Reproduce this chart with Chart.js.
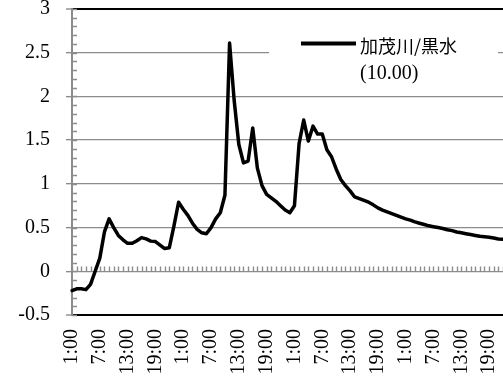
<!DOCTYPE html>
<html>
<head>
<meta charset="utf-8">
<script src="https://cdn.jsdelivr.net/npm/chart.js@4/dist/chart.umd.min.js"></script>
<style>
  html, body { margin: 0; padding: 0; background: #fff; overflow: hidden; }
  canvas { display: block; }
</style>
</head>
<body>
<canvas id="chart" width="503" height="380"></canvas>
<script>
// Station name and reference level shown in the legend
const seriesName = '加茂川/黒水';
const seriesNote = '(10.00)';

// Hour labels of one day, starting at 1:00
const dayHours = ['1:00','2:00','3:00','4:00','5:00','6:00','7:00','8:00','9:00','10:00','11:00','12:00',
                  '13:00','14:00','15:00','16:00','17:00','18:00','19:00','20:00','21:00','22:00','23:00','0:00'];

// Hourly water level (m), one array per day
const day1Level = [-0.22, -0.20, -0.20, -0.21, -0.15, 0.00, 0.15, 0.45, 0.60, 0.50, 0.41, 0.36,
                   0.32, 0.32, 0.35, 0.385, 0.37, 0.345, 0.34, 0.30, 0.26, 0.27, 0.52, 0.79];
const day2Level = [0.71, 0.64, 0.55, 0.48, 0.44, 0.43, 0.50, 0.60, 0.67, 0.87, 2.61, 1.95,
                   1.45, 1.24, 1.26, 1.64, 1.18, 0.98, 0.88, 0.84, 0.80, 0.75, 0.70, 0.67];
const day3Level = [0.75, 1.46, 1.73, 1.49, 1.66, 1.57, 1.57, 1.39, 1.31, 1.17, 1.05, 0.98,
                   0.92, 0.85, 0.83, 0.81, 0.79, 0.76, 0.725, 0.70, 0.68, 0.66, 0.64, 0.62];
const day4Level = [0.60, 0.585, 0.565, 0.55, 0.535, 0.52, 0.51, 0.50, 0.49, 0.475, 0.465,
                   0.45, 0.44, 0.43, 0.42, 0.41, 0.40, 0.395, 0.39, 0.38, 0.37, 0.365];

// Value axis range, spacing and tick labels
const yMin = -0.5;
const yMax = 3;
const yStep = 0.5;
const yMinorStep = 0.1;
const yTickLabels = ['-0.5', '0', '0.5', '1', '1.5', '2', '2.5', '3'];
// Only every sixth hour gets a label
const labelEvery = 6;

const levels = [].concat(day1Level, day2Level, day3Level, day4Level);
const categories = [].concat(dayHours, dayHours, dayHours, dayHours).slice(0, levels.length);

const axisGray = '#8c8c8c';
const serif = "'Liberation Serif', 'DejaVu Serif', 'Times New Roman', serif";

// Minor ticks, hourly ticks on the zero line and the legend box
const decorations = {
  id: 'decorations',
  beforeDatasetsDraw(chart) {
    const { ctx, chartArea: a, scales: { x, y } } = chart;
    ctx.save();
    ctx.strokeStyle = axisGray;
    ctx.lineWidth = 1.4;

    // minor ticks inside the value axis
    const kMin = Math.round(yMin / yMinorStep), kMax = Math.round(yMax / yMinorStep);
    ctx.beginPath();
    for (let k = kMin; k <= kMax; k++) {
      const py = Math.round(y.getPixelForValue(k * yMinorStep)) + 0.5;
      ctx.moveTo(a.left, py);
      ctx.lineTo(a.left + 5, py);
    }
    ctx.stroke();

    // category ticks standing on the zero line
    const y0 = Math.round(y.getPixelForValue(0)) + 0.5;
    ctx.beginPath();
    for (let i = 0; i < categories.length; i++) {
      const px = Math.round(x.getPixelForValue(i)) + 0.5;
      ctx.moveTo(px, y0);
      ctx.lineTo(px, y0 - 5);
    }
    ctx.stroke();

    // legend
    ctx.fillStyle = '#fff';
    ctx.fillRect(269, 22, 229, 62);
    ctx.strokeStyle = '#000';
    ctx.lineWidth = 4;
    ctx.beginPath();
    ctx.moveTo(301, 43.5);
    ctx.lineTo(356, 43.5);
    ctx.stroke();
    ctx.fillStyle = '#000';
    ctx.textBaseline = 'middle';
    ctx.textAlign = 'left';
    ctx.font = "18px 'Noto Sans CJK JP', sans-serif";
    ctx.fillText(seriesName, 360, 46);
    ctx.font = '20px ' + serif;
    ctx.fillText(seriesNote, 360, 74);
    ctx.restore();
  }
};

function drawChart() {
  new Chart(document.getElementById('chart'), {
    type: 'line',
    data: {
      labels: categories,
      datasets: [{
        label: seriesName,
        data: levels,
        borderColor: '#000',
        borderWidth: 3.5,
        borderJoinStyle: 'round',
        borderCapStyle: 'round',
        pointRadius: 0,
        tension: 0,
        fill: false
      }]
    },
    options: {
      responsive: false,
      animation: false,
      devicePixelRatio: 1,
      layout: { autoPadding: false, padding: { top: 9, right: 0, bottom: 0, left: 0 } },
      plugins: { legend: { display: false }, tooltip: { enabled: false } },
      scales: {
        x: {
          type: 'category',
          afterFit(scale) {
            scale.height = 65;
            scale.paddingLeft = 0;
            scale.paddingRight = 0;
          },
          grid: { display: false, drawTicks: false },
          border: { display: true, color: '#000', width: 2 },
          ticks: {
            autoSkip: false,
            minRotation: 90,
            maxRotation: 90,
            padding: 14,
            color: '#000',
            font: { family: serif, size: 20 },
            callback(value, index) {
              return index % labelEvery === 0 ? categories[index] : '';
            }
          }
        },
        y: {
          min: yMin,
          max: yMax,
          afterFit(scale) {
            scale.width = 72;
            scale.paddingTop = 0;
            scale.paddingBottom = 0;
          },
          grid: {
            color: ctx => (ctx.tick && (ctx.tick.value === yMax || ctx.tick.value === yMin)) ? '#000' : axisGray,
            lineWidth: ctx => (ctx.tick && (ctx.tick.value === yMax || ctx.tick.value === yMin)) ? 2 : 1.3,
            tickColor: axisGray,
            tickWidth: 1.4,
            tickLength: 6
          },
          border: { display: true, color: axisGray, width: 2 },
          ticks: {
            stepSize: yStep,
            padding: 16,
            color: '#000',
            font: { family: serif, size: 20 },
            callback(value, index) {
              return yTickLabels[index];
            }
          }
        }
      }
    },
    plugins: [decorations]
  });
}

// make sure the serif face is ready before the canvas text is drawn
Promise.all([
  document.fonts.load("20px 'Liberation Serif'"),
  document.fonts.load("18px 'Noto Sans CJK JP'", seriesName)
]).catch(() => {}).then(drawChart);
</script>
</body>
</html>
